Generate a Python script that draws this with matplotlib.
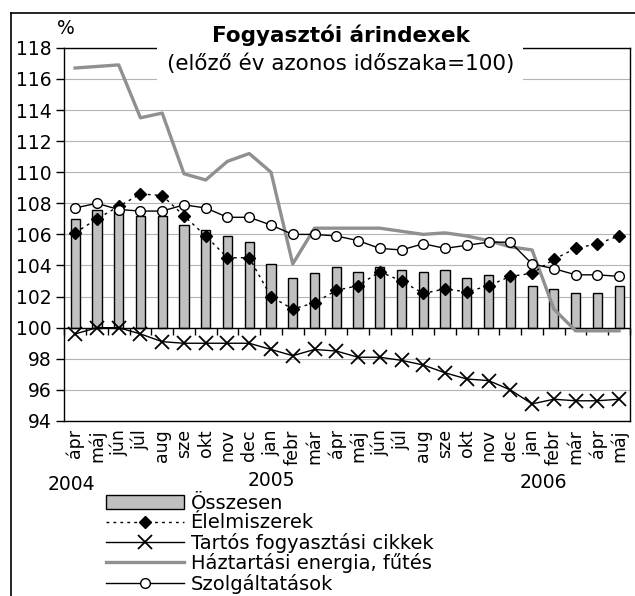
import matplotlib
matplotlib.use("Agg")
import matplotlib.pyplot as plt
from matplotlib.lines import Line2D
from matplotlib.patches import Rectangle
import numpy as np

plt.rcParams['font.family'] = ['DejaVu Sans']

months = ["ápr", "máj", "jún", "júl", "aug", "sze", "okt", "nov", "dec",
          "jan", "febr", "már", "ápr", "máj", "jún", "júl", "aug", "sze",
          "okt", "nov", "dec", "jan", "febr", "már", "ápr", "máj"]
years = ["2004", "2005", "2006"]

osszesen = [107.0, 107.6, 107.6, 107.2, 107.2, 106.6, 106.3, 105.9, 105.5,
            104.1, 103.2, 103.5, 103.9, 103.6, 103.9, 103.7, 103.6, 103.7,
            103.2, 103.4, 103.4, 102.7, 102.5, 102.2, 102.2, 102.7]
elelmiszer = [106.1, 107.0, 107.8, 108.6, 108.5, 107.2, 105.9, 104.5, 104.5,
              102.0, 101.2, 101.6, 102.4, 102.7, 103.6, 103.0, 102.2, 102.5,
              102.3, 102.7, 103.3, 103.5, 104.4, 105.1, 105.4, 105.9]
tartos = [99.6, 100.0, 100.0, 99.6, 99.1, 99.0, 99.0, 99.0, 99.0,
          98.6, 98.2, 98.6, 98.5, 98.1, 98.1, 97.9, 97.6, 97.1,
          96.7, 96.6, 96.0, 95.1, 95.4, 95.3, 95.3, 95.4]
energia = [116.7, 116.8, 116.9, 113.5, 113.8, 109.9, 109.5, 110.7, 111.2,
           110.0, 104.1, 106.4, 106.4, 106.4, 106.4, 106.2, 106.0, 106.1,
           105.9, 105.6, 105.2, 105.0, 101.2, 99.8, 99.8, 99.8]
szolgaltatas = [107.7, 108.0, 107.6, 107.5, 107.5, 107.9, 107.7, 107.1, 107.1,
                106.6, 106.0, 106.0, 105.9, 105.6, 105.1, 105.0, 105.4, 105.1,
                105.3, 105.5, 105.5, 104.1, 103.8, 103.4, 103.4, 103.3]

W, H = 635, 596
fig = plt.figure(figsize=(W / 100, H / 100), dpi=100)
ax_h = (421 - 47.8) / H
ax = fig.add_axes([64.3 / W, 1 - 421 / H, (630 - 64.3) / W, ax_h])

x = np.arange(len(months))
ax.set_axisbelow(True)
ax.yaxis.grid(True, color="#b4b4b4", lw=0.8)

bars = ax.bar(x, np.array(osszesen) - 100, bottom=100, width=0.42,
              color="#c0c0c0", edgecolor="black", lw=1.0, label="Összesen", zorder=2)
l_el, = ax.plot(x, elelmiszer, ls=(0, (2, 3)), color="black", lw=1.0,
                marker="D", ms=6, mfc="black", mec="black", label="Élelmiszerek", zorder=4)
l_ta, = ax.plot(x, tartos, ls="-", color="black", lw=1.0,
                marker="x", ms=10, mew=1.3, label="Tartós fogyasztási cikkek", zorder=4)
l_en, = ax.plot(x, energia, ls="-", color="#909090", lw=2.4,
                label="Háztartási energia, fűtés", zorder=3)
l_sz, = ax.plot(x, szolgaltatas, ls="-", color="black", lw=1.0,
                marker="o", ms=7, mfc="white", mec="black", mew=1.0,
                label="Szolgáltatások", zorder=5)

ax.set_xlim(-0.5, len(months) - 0.5)
ax.set_ylim(94, 118)
ax.set_yticks(np.arange(94, 119, 2))
ax.tick_params(axis="y", direction="out", length=6, width=1, labelsize=13.5, pad=3)
ax.set_xticks(x)
ax.set_xticklabels(months, rotation=90, fontsize=12.5)
ax.tick_params(axis="x", length=0, pad=6)
for s in ax.spines.values():
    s.set_color("black")
    s.set_linewidth(1.0)

# category axis crossing at 100
ax.axhline(100, color="black", lw=1.0, zorder=2.5)
sec = ax.secondary_xaxis((100 - 94) / (118 - 94))
sec.set_xticks(np.arange(-0.5, len(months) + 0.5, 1))
sec.set_xticklabels([])
sec.tick_params(direction="out", length=5, width=1, color="black")
sec.spines["bottom"].set_visible(False)

# year labels
year_pos = [-0.15, 9.0, 21.5]
year_y = [(421 - 485) / (421 - 47.8), (421 - 480) / (421 - 47.8), (421 - 483) / (421 - 47.8)]
trans = ax.get_xaxis_transform()
for yl, xp, yp in zip(years, year_pos, year_y):
    ax.text(xp, yp, yl, transform=trans, ha="center", va="center", fontsize=13.5)

# title box
fig.add_artist(Rectangle((157 / W, 1 - 86 / H), (523 - 157) / W, (86 - 14) / H,
                         transform=fig.transFigure, facecolor="white",
                         edgecolor="none", zorder=5))
fig.text(341 / W, 1 - 35 / H, "Fogyasztói árindexek", ha="center", va="center",
         fontsize=15.5, fontweight="bold", zorder=6)
fig.text(341 / W, 1 - 64 / H, "(előző év azonos időszaka=100)", ha="center",
         va="center", fontsize=15.5, zorder=6)
fig.text(66 / W, 1 - 29 / H, "%", ha="center", va="center", fontsize=13.5, zorder=6)

# outer frame
fig.add_artist(Line2D([11 / W, 11 / W], [0, 1 - 13 / H], transform=fig.transFigure,
                      color="black", lw=1.2))
fig.add_artist(Line2D([11 / W, 1], [1 - 13 / H, 1 - 13 / H], transform=fig.transFigure,
                      color="black", lw=1.2))

handles = [bars, l_el, l_ta, l_en, l_sz]
fig.legend(handles=handles, labels=[h.get_label() for h in handles],
           loc="upper left", bbox_to_anchor=(106 / W, 1 - 494 / H),
           frameon=False, fontsize=14, handlelength=4.0, handletextpad=0.35,
           labelspacing=0.02, borderpad=0, borderaxespad=0)

fig.savefig("out.png", dpi=100)
